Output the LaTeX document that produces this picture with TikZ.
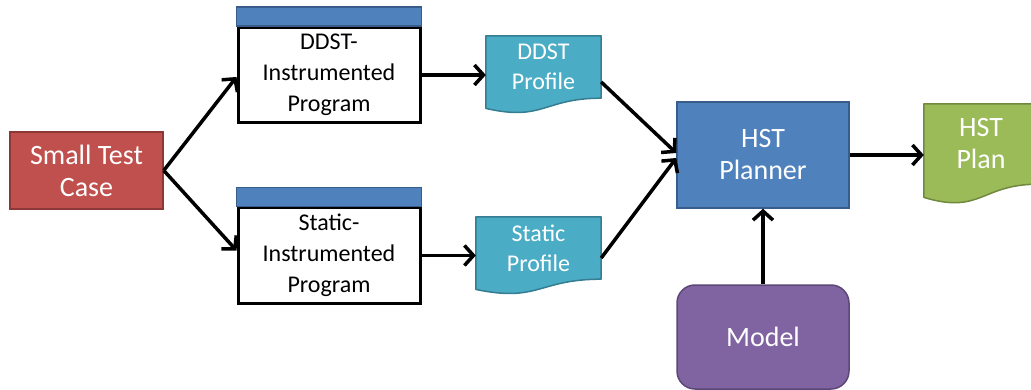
\documentclass[tikz,border=0pt]{standalone}
\usepackage{fontspec}
\setmainfont{Carlito}
\usetikzlibrary{arrows.meta,calc,backgrounds}
\definecolor{redfill}{HTML}{C0504D}
\definecolor{redline}{HTML}{8C3836}
\definecolor{tealfill}{HTML}{4BACC6}
\definecolor{tealline}{HTML}{357D91}
\definecolor{bluefill}{HTML}{4F81BD}
\definecolor{blueline}{HTML}{385D8A}
\definecolor{greenfill}{HTML}{9BBB59}
\definecolor{greenline}{HTML}{71893F}
\definecolor{purplefill}{HTML}{8064A2}
\definecolor{purpleline}{HTML}{5C4776}
\newcommand\mydocshape[5]{% name, fill, line, dip, drop
  \begin{scope}[on background layer]
    \filldraw[fill=#2, draw=#3, line width=1.5pt, line join=round]
      (#1.north west) -- (#1.north east) -- (#1.south east)
      .. controls (#1.south) and ($(#1.south)+(0,#4)$) .. ($(#1.south west)+(0,#5)$) -- cycle;
  \end{scope}}
\begin{document}
\begin{tikzpicture}[x=1pt,y=-1pt,
  bigtext/.style={font=\fontsize{28}{32}\selectfont, align=center},
  smalltext/.style={font=\fontsize{24}{30}\selectfont, align=center},
  progtext/.style={font=\fontsize{24}{31}\selectfont, align=center},
  colbox/.style={draw=#1line, fill=#1fill, line width=1.5pt, text=white, inner sep=0pt},
  progbody/.style={draw=black, fill=white, line width=3pt, progtext, minimum width=182pt, minimum height=95pt, inner sep=0pt},
  progbar/.style={draw=blueline, fill=bluefill, line width=1.5pt},
  docnode/.style={smalltext, text=white, inner sep=0pt},
  conn/.style={line width=3.5pt, -{Straight Barb[length=9pt,width=20pt]}}
]
\useasboundingbox (0,0) rectangle (1031,390);

% Small test case
\node[colbox=red, bigtext, minimum width=153pt, minimum height=77pt] (tc) at (86.5,170.5) {Small Test\\Case};

% Programs
\node[progbody] (dprog) at (329,75) {DDST-\\Instrumented\\Program};
\draw[progbar] (dprog.north west) rectangle ($(dprog.north east)+(0,-19)$);
\node[progbody] (sprog) at (329,255.5) {Static-\\Instrumented\\Program};
\draw[progbar] (sprog.north west) rectangle ($(sprog.north east)+(0,-19)$);

% Profiles (document shapes)
\node[docnode, minimum width=115pt, minimum height=62pt] (dprof) at (543.5,67) {DDST\\Profile};
\mydocshape{dprof}{tealfill}{tealline}{23.5}{10.2}
\node[docnode, minimum width=125pt, minimum height=62pt] (sprof) at (538.5,248) {Static\\Profile};
\mydocshape{sprof}{tealfill}{tealline}{23.5}{10.2}

% Planner
\node[colbox=blue, bigtext, minimum width=172pt, minimum height=106pt] (plan) at (763,155) {HST\\Planner};

% HST Plan
\node[docnode, bigtext, minimum width=114pt, minimum height=80pt] (hplan) at (981,144) {HST\\Plan};
\mydocshape{hplan}{greenfill}{greenline}{30.5}{13.2}

% Model
\node[colbox=purple, bigtext, rounded corners=18pt, minimum width=172pt, minimum height=104pt] (model) at (763,337) {Model};

% Connectors
\draw[conn] (tc.east) -- ([yshift=-2pt]dprog.west);
\draw[conn] (tc.east) -- ([yshift=5pt]sprog.west);
\draw[conn] (dprog.east) -- (dprog.east -| dprof.west);
\draw[conn] (sprog.east) -- (sprog.east -| sprof.west);
\draw[conn] ([yshift=-15pt]dprof.east) -- ([yshift=2pt]plan.west);
\draw[conn] ([yshift=-10pt]sprof.east) -- ([yshift=-3pt]plan.west);
\draw[conn] (plan.east) -- (plan.east -| hplan.west);
\draw[conn] (model.north) -- (plan.south);
\end{tikzpicture}
\end{document}
